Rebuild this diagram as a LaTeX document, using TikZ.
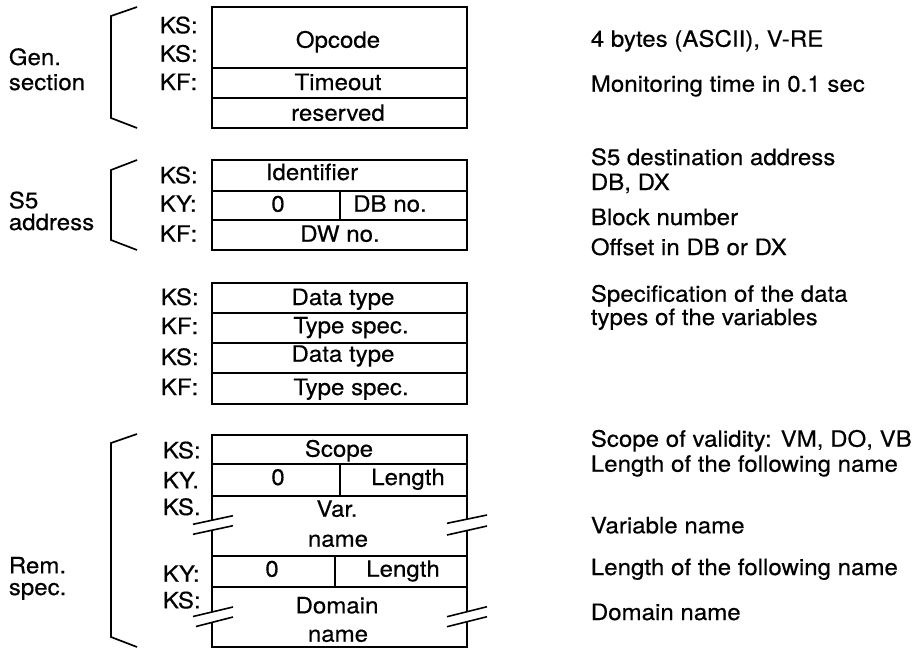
\documentclass[tikz,border=0pt]{standalone}
\usepackage{fontspec}
\setmainfont{TeX Gyre Heros}[FakeStretch=1.07,FakeBold=0.4]
\begin{document}
\begin{tikzpicture}[x=1pt,y=-1pt,line width=1.7pt,line join=miter,
  txt/.style={font=\fontsize{22.5}{25}\selectfont,inner sep=0pt,anchor=base},
  lbl/.style={txt,anchor=base west},
  brk/.style={line width=1.6pt}]
\useasboundingbox (0,0) rectangle (916,649);

% ---------- Gen. section ----------
\draw (137,7) -- (111,16) -- (111,118) -- (137,128);
\node[lbl] (gen1) at (8,65) {Gen.};
\node[lbl] (gen2) at (8,90) {section};
\node[lbl] (g1k1) at (159,33.3) {KS:};
\node[lbl] (g1k2) at (159,61.7) {KS:};
\node[lbl] (g1k3) at (159,90) {KF:};
\draw (212,7) rectangle (467,128);
\draw (212,68) -- (467,68);
\draw (212,98) -- (467,98);
\node[txt] (opcode) at (338,47.7) {Opcode};
\node[txt] (timeout) at (338,90) {Timeout};
\node[txt] (reserved) at (338,120.7) {reserved};
\node[lbl] (d1) at (590,46.7) {4 bytes (ASCII), V-RE};
\node[lbl] (d2) at (590,91.7) {Monitoring time in 0.1 sec};

% ---------- S5 address ----------
\draw (137,160) -- (111,170) -- (111,240) -- (137,250);
\node[lbl] (s5a) at (8,208.3) {S5};
\node[lbl] (s5b) at (8,230) {address};
\node[lbl] (g2k1) at (159,183.3) {KS:};
\node[lbl] (g2k2) at (159,211.7) {KY:};
\node[lbl] (g2k3) at (159,241.7) {KF:};
\draw (212,160) rectangle (467,250);
\draw (212,190.7) -- (467,190.7);
\draw (212,220) -- (467,220);
\draw (340,190.7) -- (340,220);
\node[txt] (ident) at (312,180) {Identifier};
\node[txt] (zero1) at (278,211.7) {0};
\node[txt] (dbno) at (390,211.7) {DB no.};
\node[txt] (dwno) at (340,241.7) {DW no.};
\node[lbl] (d3) at (590,165) {S5 destination address};
\node[lbl] (d4) at (590,190) {DB, DX};
\node[lbl] (d5) at (590,225) {Block number};
\node[lbl] (d6) at (590,255) {Offset in DB or DX};

% ---------- Data types ----------
\node[lbl] (g3k1) at (160,305) {KS:};
\node[lbl] (g3k2) at (160,334) {KF:};
\node[lbl] (g3k3) at (160,365) {KS:};
\node[lbl] (g3k4) at (160,395) {KF:};
\draw (212,282.7) rectangle (467,404.3);
\draw (212,312.7) -- (467,312.7);
\draw (212,342.7) -- (467,342.7);
\draw (212,373.3) -- (467,373.3);
\node[txt] (dt1) at (343,305) {Data type};
\node[txt] (ts1) at (351,333.3) {Type spec.};
\node[txt] (dt2) at (343,361.7) {Data type};
\node[txt] (ts2) at (351,395) {Type spec.};
\node[lbl] (d7) at (590,301.7) {Specification of the data};
\node[lbl] (d8) at (590,325) {types of the variables};

% ---------- Rem. spec. ----------
\draw (137,434) -- (111,443) -- (111,637) -- (137,647);
\node[lbl] (rem1) at (8,573.3) {Rem.};
\node[lbl] (rem2) at (8,595) {spec.};
\node[lbl] (g4k1) at (162,458.3) {KS:};
\node[lbl] (g4k2) at (162,488.3) {KY.};
\node[lbl] (g4k3) at (162,515) {KS.};
\node[lbl] (g4k4) at (162,581.7) {KY:};
\node[lbl] (g4k5) at (162,608.3) {KS:};
% outline with breaks
\draw (212,520.2) -- (212,435) -- (467,435) -- (467,519.2);
\draw (212,530.2) -- (212,612);
\draw (467,530.5) -- (467,611.7);
\draw (212,622.4) -- (212,647) -- (467,647) -- (467,621.7);
\draw (212,464) -- (467,464);
\draw (212,496) -- (467,496);
\draw (212,556) -- (467,556);
\draw (212,586.7) -- (467,586.7);
\draw (340,464) -- (340,496);
\draw (335,556) -- (335,586.7);
% break marks
\draw[brk] (193,524.3) -- (233,515.7);
\draw[brk] (193,534.3) -- (233,525.7);
\draw[brk] (193,616.5) -- (233,607);
\draw[brk] (196,626.5) -- (233,617);
\draw[brk] (447,523.3) -- (487,515);
\draw[brk] (447,535) -- (487,526);
\draw[brk] (447,616.7) -- (487,606.7);
\draw[brk] (447,626.7) -- (487,616.7);
\node[txt] (scope) at (339,456.7) {Scope};
\node[txt] (zero2) at (278,485) {0};
\node[txt] (len1) at (408,485) {Length};
\node[txt] (var1) at (337,516.7) {Var.};
\node[txt] (var2) at (338,546.7) {name};
\node[txt] (zero3) at (272,576.7) {0};
\node[txt] (len2) at (403,576.7) {Length};
\node[txt] (dom1) at (337,613.3) {Domain};
\node[txt] (dom2) at (338,641.7) {name};
\node[lbl] (d9) at (590,446.7) {Scope of validity: VM, DO, VB};
\node[lbl] (d10) at (590,471.7) {Length of the following name};
\node[lbl] (d11) at (590,533.3) {Variable name};
\node[lbl] (d12) at (590,575) {Length of the following name};
\node[lbl] (d13) at (590,620) {Domain name};
\end{tikzpicture}
\end{document}
